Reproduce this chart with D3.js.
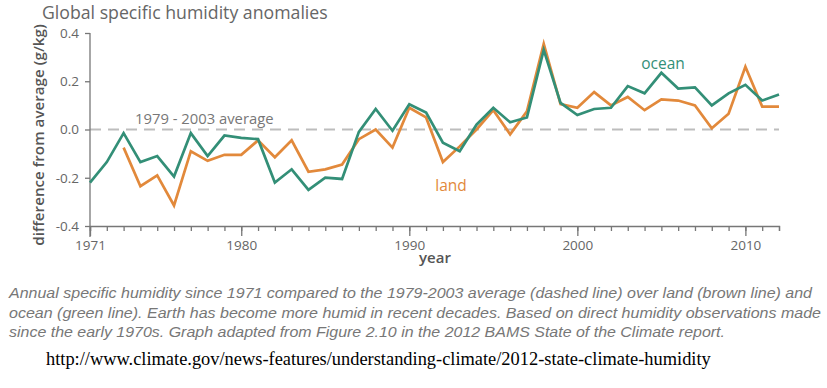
<!DOCTYPE html>
<html>
<head>
<meta charset="utf-8">
<script src="https://cdn.jsdelivr.net/npm/d3@7"></script>
<style>
  body { margin: 0; background: #fff; }
  svg { display: block; }
</style>
</head>
<body>
<svg id="chart" width="827" height="388"></svg>
<script>
// years on the x axis
var years = d3.range(1971, 2013);

// ocean anomaly, g/kg (1971..2012)
var ocean = [-0.22, -0.135, -0.015, -0.135, -0.11, -0.195, -0.015, -0.11, -0.025, -0.035,
	-0.04, -0.22, -0.165, -0.25, -0.2, -0.205, -0.01, 0.085, -0.005, 0.105,
	0.07, -0.055, -0.09, 0.02, 0.09, 0.03, 0.05, 0.33, 0.11, 0.06,
	0.085, 0.09, 0.18, 0.15, 0.235, 0.17, 0.175, 0.1, 0.15, 0.185,
	0.12, 0.145];

// land anomaly, g/kg (starts 1973)
var landYears = d3.range(1973, 2013);
var land = [-0.075, -0.235, -0.19, -0.315, -0.09, -0.13, -0.105, -0.105,
	-0.045, -0.115, -0.045, -0.175, -0.165, -0.145, -0.04, 0.0, -0.075, 0.09,
	0.05, -0.135, -0.07, 0.0, 0.08, -0.02, 0.075, 0.355, 0.105, 0.09,
	0.155, 0.1, 0.135, 0.08, 0.125, 0.12, 0.1, 0.005, 0.065, 0.26,
	0.095, 0.095];

var yTicks = [-0.4, -0.2, 0, 0.2, 0.4];
var xLabels = [1971, 1980, 1990, 2000, 2010];

var captionLines = [
	"Annual specific humidity since 1971 compared to the 1979-2003 average (dashed line) over land (brown line) and",
	"ocean (green line). Earth has become more humid in recent decades. Based on direct humidity observations made",
	"since the early 1970s. Graph adapted from Figure 2.10 in the 2012 BAMS State of the Climate report."
];
var captionWidths = [803, 812, 716];
var sourceUrl = "http://www.climate.gov/news-features/understanding-climate/2012-state-climate-humidity";

var greenCol = "#338f77",
	orangeCol = "#e2893b",
	greyText = "#666";

var svg = d3.select("#chart");

var x = d3.scaleLinear().domain([1971, 2012]).range([90, 779]);
var y = d3.scaleLinear().domain([-0.4, 0.4]).range([226, 33]);

var font = "'Open Sans', 'Noto Sans', sans-serif";

// title
svg.append("text")
	.attr("x", 42).attr("y", 19)
	.attr("font-family", font).attr("font-size", 17.7)
	.attr("fill", greyText)
	.text("Global specific humidity anomalies");

// baseline average (dashed)
svg.append("line")
	.attr("x1", x(1971)).attr("x2", x(2012))
	.attr("y1", y(0)).attr("y2", y(0))
	.attr("stroke", "#bdbdbd").attr("stroke-width", 2)
	.attr("stroke-dasharray", "11,7");

svg.append("text")
	.attr("x", 135).attr("y", 124)
	.attr("font-family", font).attr("font-size", 14.8)
	.attr("fill", "#777")
	.text("1979 - 2003 average");

// y axis
var yAxis = svg.append("g")
	.attr("transform", "translate(" + x(1971) + ",0)")
	.call(d3.axisLeft(y).tickValues(yTicks).tickSize(5).tickPadding(6)
		.tickFormat(function(d){ return d.toFixed(1); }));
yAxis.select(".domain").attr("d", "M0," + y(0.4) + "V237");

// x axis: minor ticks every year, major ticks with labels
var xMinor = svg.append("g")
	.attr("transform", "translate(0," + y(-0.4) + ")")
	.call(d3.axisBottom(x).tickValues(years).tickSize(5).tickFormat(""));
var xMajor = svg.append("g")
	.attr("transform", "translate(0," + y(-0.4) + ")")
	.call(d3.axisBottom(x).tickValues(xLabels).tickSize(10).tickPadding(4)
		.tickFormat(d3.format("d")));
xMajor.select(".domain").remove();

svg.selectAll(".domain, .tick line")
	.attr("stroke", "#777").attr("stroke-width", 1.3);
svg.selectAll(".tick text")
	.attr("font-family", font).attr("font-size", 13.5)
	.attr("fill", greyText);

// axis titles
svg.append("text")
	.attr("transform", "translate(44,135) rotate(-90)")
	.attr("text-anchor", "middle")
	.attr("font-family", font).attr("font-size", 15.2).attr("font-weight", 600)
	.attr("fill", "#555")
	.text("difference from average (g/kg)");

svg.append("text")
	.attr("x", 435).attr("y", 263)
	.attr("text-anchor", "middle")
	.attr("font-family", font).attr("font-size", 15).attr("font-weight", 600)
	.attr("fill", "#555")
	.text("year");

// series
var line = d3.line()
	.x(function(d){ return x(d[0]); })
	.y(function(d){ return y(d[1]); });

svg.append("path")
	.datum(landYears.map(function(yr, i){ return [yr, land[i]]; }))
	.attr("fill", "none").attr("stroke", orangeCol)
	.attr("stroke-width", 2.7).attr("stroke-linejoin", "miter")
	.attr("d", line);

svg.append("path")
	.datum(years.map(function(yr, i){ return [yr, ocean[i]]; }))
	.attr("fill", "none").attr("stroke", greenCol)
	.attr("stroke-width", 2.7).attr("stroke-linejoin", "miter")
	.attr("d", line);

// series labels
svg.append("text")
	.attr("x", 663).attr("y", 69)
	.attr("text-anchor", "middle")
	.attr("font-family", font).attr("font-size", 15.5)
	.attr("fill", greenCol)
	.text("ocean");

svg.append("text")
	.attr("x", 451).attr("y", 191)
	.attr("text-anchor", "middle")
	.attr("font-family", font).attr("font-size", 15.5)
	.attr("fill", orangeCol)
	.text("land");

// caption
svg.selectAll(".caption")
	.data(captionLines)
	.enter().append("text")
	.attr("class", "caption")
	.attr("x", 9)
	.attr("y", function(d, i){ return 298 + i * 19.5; })
	.attr("font-family", "'Liberation Sans', Arial, sans-serif")
	.attr("font-style", "italic").attr("font-size", 14.5)
	.attr("fill", "#777")
	.attr("textLength", function(d, i){ return captionWidths[i]; })
	.attr("lengthAdjust", "spacingAndGlyphs")
	.text(function(d){ return d; });

svg.append("text")
	.attr("x", 46).attr("y", 365)
	.attr("font-family", "'Liberation Serif', 'Times New Roman', serif")
	.attr("font-size", 18.4)
	.attr("fill", "#000")
	.text(sourceUrl);
</script>
</body>
</html>
